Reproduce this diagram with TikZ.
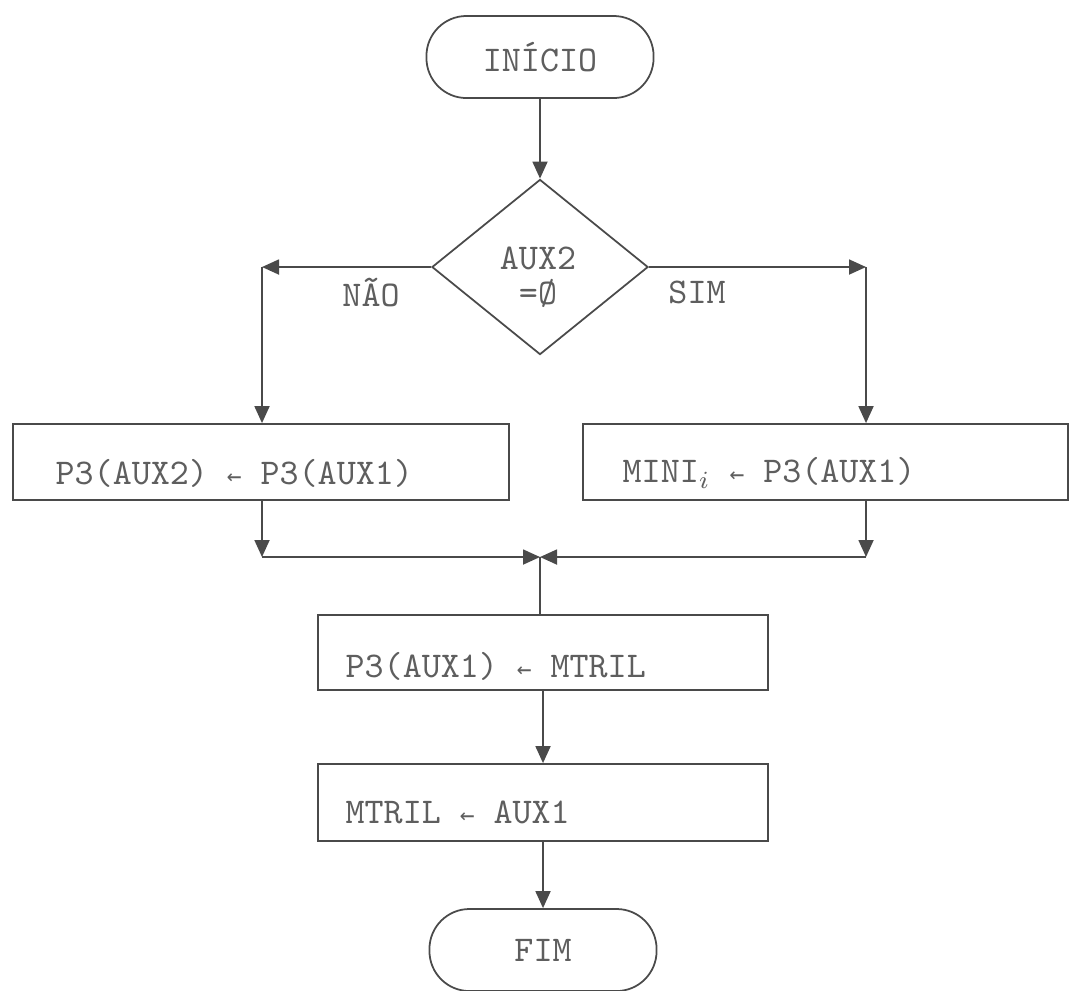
\documentclass[tikz,border=0pt]{standalone}
\usepackage{fontspec}
\newfontfamily\arrowfont{DejaVu Sans Mono}
\usetikzlibrary{arrows.meta,shapes.geometric}

\definecolor{linegray}{HTML}{4A4A4A}
\definecolor{textgray}{HTML}{5E5E5E}
\newcommand{\getsarrow}{{\arrowfont\fontsize{7}{8}\selectfont ←}}

\tikzset{
	line/.style={draw=linegray, line width=0.5pt},
	arr/.style={line, -{Triangle[length=0.17cm,width=0.15cm]}, color=linegray},
	txt/.style={font=\ttfamily\fontsize{10.3}{8.6}\selectfont, text=textgray, inner sep=0pt},
	term/.style={line, txt, rectangle, rounded corners=0.4cm, minimum width=2.27cm, minimum height=0.82cm},
	procbox/.style={line, rectangle, minimum height=0.76cm},
	decision/.style={line, diamond, minimum width=2.16cm, minimum height=1.75cm, inner sep=0pt}
}

\begin{document}
\begin{tikzpicture}[x=0.01cm, y=-0.01cm]
						\useasboundingbox (0,0) rectangle (1071,990);
						\node[term] (start) at (540,57) {INÍCIO};
						\node[decision] (test) at (540,267) {};
						\node[txt, align=center, font=\ttfamily\fontsize{10.3}{10}\selectfont] (testtxt) at (538,277) {AUX2\\=Ø};
						\coordinate (nl) at (262,267);
						\coordinate (nr) at (866,267);
						\node[txt] (nao) at (371,292) {NÃO};
						\node[txt] (sim) at (697,292) {SIM};
						\node[procbox, minimum width=4.96cm] (swap) at (261,462) {};
						\node[procbox, minimum width=4.85cm] (mini) at (825.5,462) {};
						\node[txt, anchor=west] (swaptxt) at (55,473) {P3(AUX2) \getsarrow{} P3(AUX1)};
						\node[txt, anchor=west] (minitxt) at (622,473) {MINI$_{i}$ \getsarrow{} P3(AUX1)};
						\coordinate (jl) at (262,557);
						\coordinate (jr) at (866,557);
						\coordinate (join) at (540,557);
						\node[procbox, minimum width=4.50cm, minimum height=0.75cm] (upd) at (543,652.5) {};
						\node[txt, anchor=west] (updtxt) at (345,666) {P3(AUX1) \getsarrow{} MTRIL};
						\node[procbox, minimum width=4.50cm, minimum height=0.77cm] (mov) at (543,802.5) {};
						\node[txt, anchor=west] (movtxt) at (345,812) {MTRIL \getsarrow{} AUX1};
						\node[term] (stop) at (543,950) {FIM};
						\draw[arr] (start) -- (test);
						\draw[arr] (test.west) -- (nl);
						\draw[arr] (nl) -- (nl |- swap.north);
						\draw[arr] (test.east) -- (nr);
						\draw[arr] (nr) -- (nr |- mini.north);
						\draw[arr] (jl |- swap.south) -- (jl);
						\draw[arr] (jr |- mini.south) -- (jr);
						\draw[arr] (jl) -- (join);
						\draw[arr] (jr) -- (join);
						\draw[line] (join) -- (join |- upd.north);
						\draw[arr] (upd) -- (mov);
						\draw[arr] (mov) -- (stop);
					\end{tikzpicture}
\end{document}
